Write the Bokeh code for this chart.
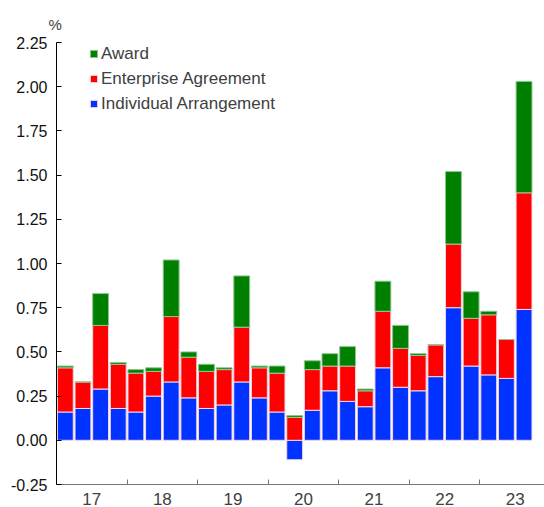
from bokeh.plotting import figure
from bokeh.models import (ColumnDataSource, FixedTicker, NumeralTickFormatter, Legend,
                          LegendItem, Title, Range1d)
from bokeh.embed import file_html
from bokeh.resources import INLINE

# ---- data (quarterly, 2017 Q1 to 2023 Q3), percentage points ----
quarters = ["2017Q1", "2017Q2", "2017Q3", "2017Q4",
            "2018Q1", "2018Q2", "2018Q3", "2018Q4",
            "2019Q1", "2019Q2", "2019Q3", "2019Q4",
            "2020Q1", "2020Q2", "2020Q3", "2020Q4",
            "2021Q1", "2021Q2", "2021Q3", "2021Q4",
            "2022Q1", "2022Q2", "2022Q3", "2022Q4",
            "2023Q1", "2023Q2", "2023Q3"]
individual = [0.16, 0.18, 0.29, 0.18, 0.16, 0.25, 0.33, 0.24, 0.18, 0.20, 0.33, 0.24,
              0.16, -0.11, 0.17, 0.28, 0.22, 0.19, 0.41, 0.30, 0.28, 0.36, 0.75, 0.42,
              0.37, 0.35, 0.74]
enterprise = [0.25, 0.15, 0.36, 0.25, 0.22, 0.14, 0.37, 0.23, 0.21, 0.20, 0.31, 0.17,
              0.22, 0.13, 0.23, 0.14, 0.20, 0.09, 0.32, 0.22, 0.20, 0.18, 0.36, 0.27,
              0.34, 0.22, 0.66]
award = [0.01, 0.0, 0.18, 0.01, 0.02, 0.02, 0.32, 0.03, 0.04, 0.01, 0.29, 0.01,
         0.04, 0.01, 0.05, 0.07, 0.11, 0.01, 0.17, 0.13, 0.01, 0.0, 0.41, 0.15,
         0.02, 0.0, 0.63]
year_labels = ["17", "18", "19", "20", "21", "22", "23"]
y_ticks = [-0.25, 0.0, 0.25, 0.5, 0.75, 1.0, 1.25, 1.5, 1.75, 2.0, 2.25]

# ---- stacking (positive parts stack upward from zero) ----
x = [i + 0.5 for i in range(len(quarters))]
b_bot = [min(0, v) for v in individual]
b_top = [max(0, v) for v in individual]
r_bot = b_top
r_top = [a + b for a, b in zip(r_bot, enterprise)]
g_bot = r_top
g_top = [a + b for a, b in zip(g_bot, award)]

src = ColumnDataSource(dict(x=x, b_bot=b_bot, b_top=b_top, r_bot=r_bot, r_top=r_top,
                            g_bot=g_bot, g_top=g_top))

p = figure(width=544, height=507, output_backend="svg", toolbar_location=None,
           x_range=Range1d(0, 27.66), y_range=Range1d(-0.25, 2.25),
           min_border_left=56, min_border_right=0, min_border_top=42, min_border_bottom=21)
p.outline_line_color = None
p.xgrid.visible = False
p.ygrid.visible = False

border = "#f2d6e6"
rb = p.vbar(x="x", bottom="b_bot", top="b_top", width=0.9, source=src,
            fill_color="#0033ff", line_color=border, line_width=1)
rr = p.vbar(x="x", bottom="r_bot", top="r_top", width=0.9, source=src,
            fill_color="#ff0000", line_color=border, line_width=1)
rg = p.vbar(x="x", bottom="g_bot", top="g_top", width=0.9, source=src,
            fill_color="#008000", line_color="#8fc48f", line_width=1)

font = "Liberation Sans"

# y axis
p.yaxis.ticker = FixedTicker(ticks=y_ticks, minor_ticks=[])
p.yaxis.formatter = NumeralTickFormatter(format="0.00")
p.yaxis.major_label_text_font = font
p.yaxis.major_label_text_font_size = "16px"
p.yaxis.major_label_text_color = "#111111"
p.yaxis.major_tick_in = 5
p.yaxis.major_tick_out = 0
p.yaxis.major_label_standoff = 9
p.yaxis.axis_line_color = "#000000"
p.yaxis.major_tick_line_color = "#000000"
p.yaxis.minor_tick_line_color = None

# x axis: labels at year centres, ticks at year boundaries
centres = [2 + 4 * i for i in range(len(year_labels))]
bounds = [4 * i for i in range(1, len(year_labels))]
p.xaxis.ticker = FixedTicker(ticks=centres, minor_ticks=bounds)
p.xaxis.major_label_overrides = {c: lab for c, lab in zip(centres, year_labels)}
p.xaxis.major_tick_line_color = None
p.xaxis.minor_tick_in = 5
p.xaxis.minor_tick_out = 0
p.xaxis.minor_tick_line_color = "#777777"
p.xaxis.axis_line_color = "#777777"
p.xaxis.major_label_text_font = font
p.xaxis.major_label_text_font_size = "17px"
p.xaxis.major_label_text_color = "#404040"
p.xaxis.major_label_standoff = 8
p.xaxis.major_tick_in = 0
p.xaxis.major_tick_out = 0

# "%" unit label above the y axis
p.add_layout(Title(text="%", align="left", offset=-8, standoff=20,
                   text_font=font, text_font_size="15px", text_font_style="normal",
                   text_color="#404040"), "above")

legend = Legend(items=[LegendItem(label="Award", renderers=[rg]),
                       LegendItem(label="Enterprise Agreement", renderers=[rr]),
                       LegendItem(label="Individual Arrangement", renderers=[rb])],
                location=(33, 370), orientation="vertical",
                glyph_width=9, glyph_height=9, label_height=21, spacing=4,
                label_standoff=3, padding=0, margin=0,
                label_text_font=font, label_text_font_size="17px",
                label_text_color="#404040",
                border_line_color=None, background_fill_alpha=0)
p.add_layout(legend)

open("out.html", "w").write(file_html(p, INLINE))
